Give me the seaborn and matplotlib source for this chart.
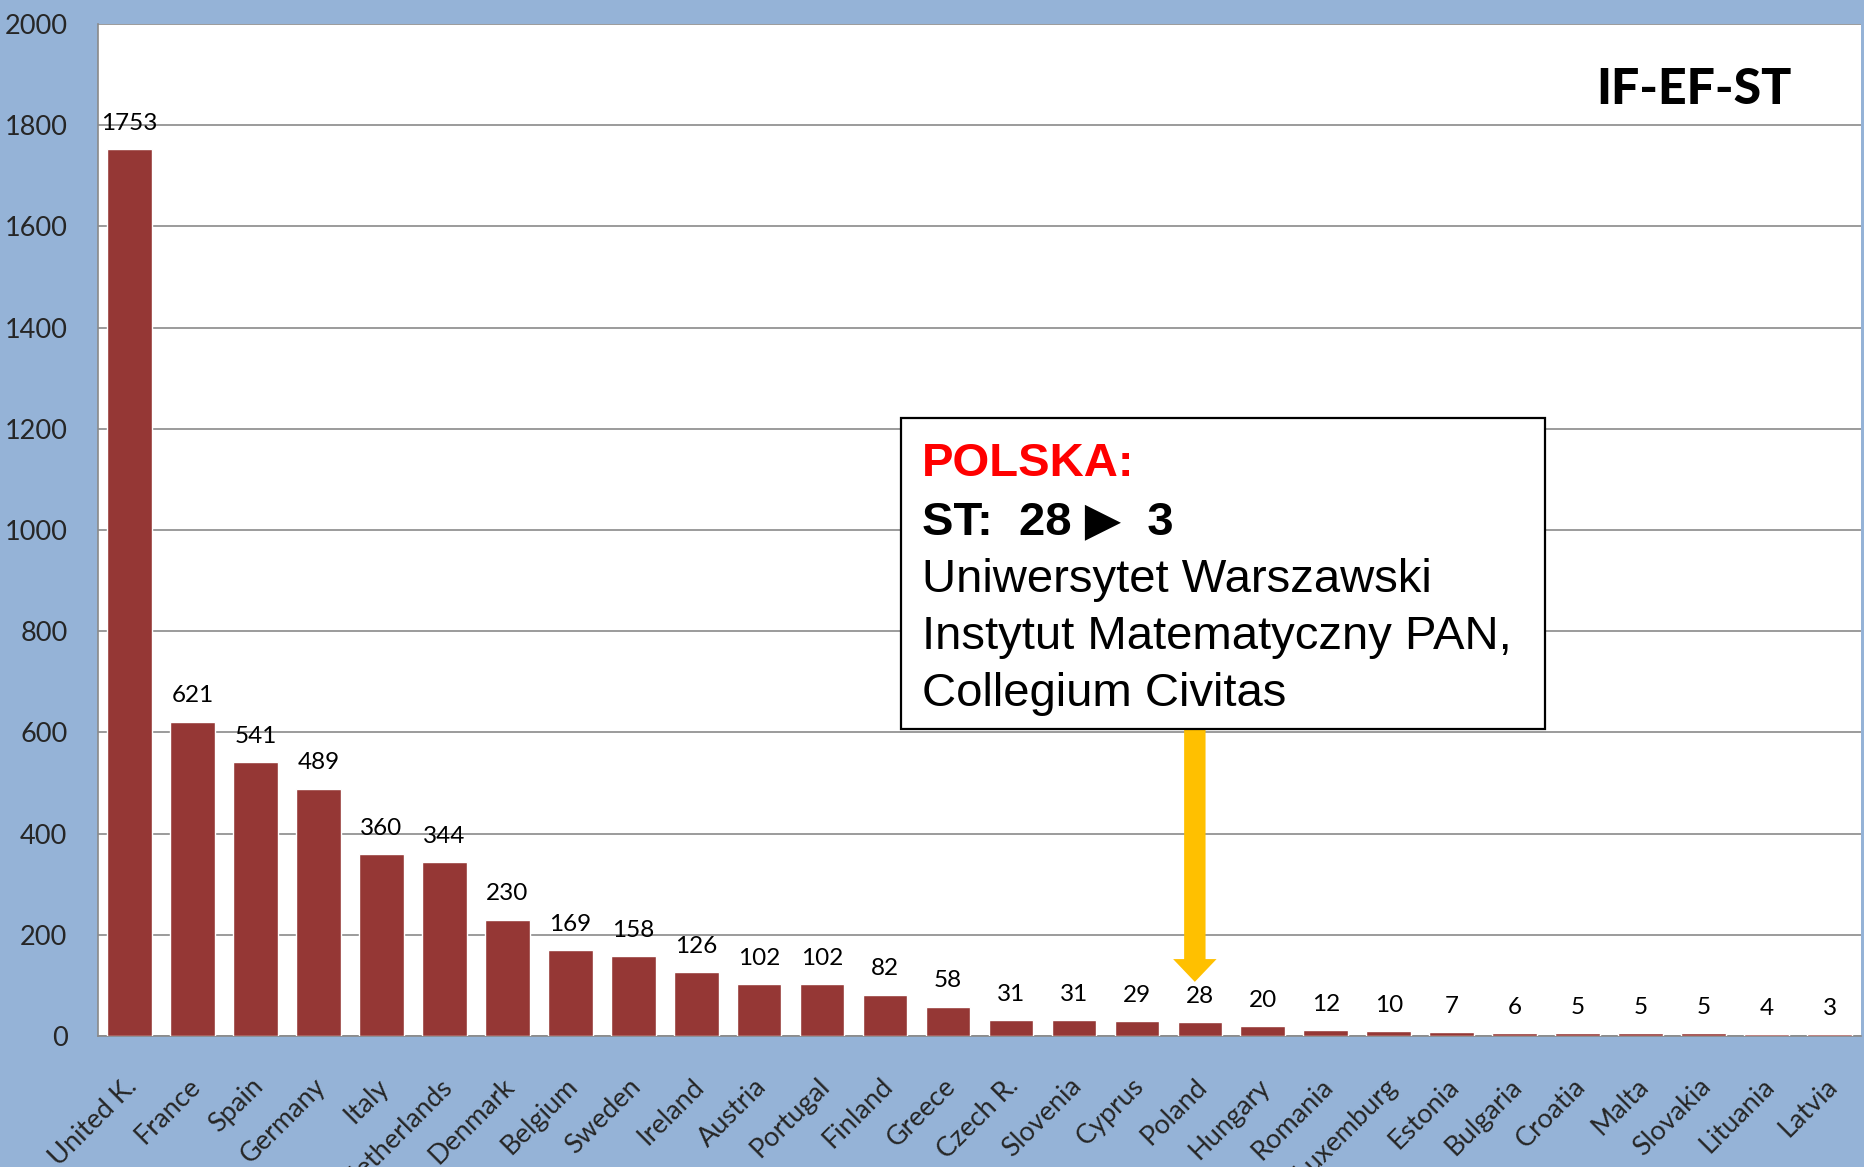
import numpy as np
import matplotlib
matplotlib.use("Agg")
import matplotlib.pyplot as plt
import matplotlib.transforms as mtransforms
from matplotlib.patches import Rectangle
import seaborn as sns

# data
countries = ["United K.", "France", "Spain", "Germany", "Italy", "Netherlands",
             "Denmark", "Belgium", "Sweden", "Ireland", "Austria", "Portugal",
             "Finland", "Greece", "Czech R.", "Slovenia", "Cyprus", "Poland",
             "Hungary", "Romania", "Luxemburg", "Estonia", "Bulgaria", "Croatia",
             "Malta", "Slovakia", "Lituania", "Latvia"]
projects = [1753, 621, 541, 489, 360, 344, 230, 169, 158, 126, 102, 102, 82, 58,
            31, 31, 29, 28, 20, 12, 10, 7, 6, 5, 5, 5, 4, 3]
y_ticks = [0, 200, 400, 600, 800, 1000, 1200, 1400, 1600, 1800, 2000]

title_text = "IF-EF-ST"
box_lines = ["POLSKA:", "ST:  28 \u25B6  3", "Uniwersytet Warszawski",
             "Instytut Matematyczny PAN,", "Collegium Civitas"]
arrow_target = "Poland"

sns.set_style("white")
plt.rcParams["font.family"] = ["Lato", "DejaVu Sans"]

bg = "#95B3D7"
bar_color = "#953735"
grey = "#8a8a8a"

fig = plt.figure(figsize=(18.64, 11.67), dpi=100, facecolor=bg)
ax = fig.add_axes([98 / 1864, 1 - 1036 / 1167, 1763 / 1864, 1012 / 1167])
ax.set_facecolor("white")

sns.barplot(x=countries, y=projects, color=bar_color, width=0.71,
            saturation=1, ax=ax, zorder=3)
ax.bar_label(ax.containers[0], labels=[str(v) for v in projects],
             padding=11, fontsize=17.5, color="black")

ax.set_xlim(-0.5, len(countries) - 0.5)
ax.set_ylim(0, 2000)
ax.set_yticks(y_ticks)
ax.yaxis.grid(True, color=grey, linewidth=1.2, zorder=0)
ax.set_axisbelow(True)
for s in ["top", "right"]:
    ax.spines[s].set_visible(False)
for s in ["left", "bottom"]:
    ax.spines[s].set_color(grey)
    ax.spines[s].set_linewidth(1.2)

ax.tick_params(axis="y", length=7, width=1.2, color=grey, pad=15, labelsize=19.5)
ax.set_xticks(np.arange(-0.5, len(countries), 1), minor=True)
ax.tick_params(axis="x", which="major", length=0, pad=27, labelsize=19.5)
ax.tick_params(axis="x", which="minor", length=7, width=1.2, color=grey)
shift = mtransforms.ScaledTranslation(9 / 72, 0, fig.dpi_scale_trans)
for lab in ax.get_xticklabels():
    lab.set_rotation(45)
    lab.set_ha("right")
    lab.set_va("top")
    lab.set_transform(lab.get_transform() + shift)
ax.set_xlabel("")
ax.set_ylabel("")

# title in the top-right corner
ax.text(0.9054, 0.9357, title_text, transform=ax.transAxes, ha="center",
        va="center", fontsize=36, fontweight="black", color="black")

# yellow arrow pointing at Poland
px = countries.index(arrow_target) - 0.08
ax.arrow(px, 607, 0, -500, width=0.34, head_width=0.69, head_length=45,
         length_includes_head=True, color="#FFC000", zorder=4, linewidth=0)

# annotation box
ax.add_patch(Rectangle((0.4555, 0.3034), 0.3653, 0.3073, transform=ax.transAxes,
                       facecolor="white", edgecolor="black", linewidth=1.6,
                       zorder=5, clip_on=False))
fam = ["Liberation Sans", "DejaVu Sans"]
baselines = [476, 534, 592, 649, 706]
styles = [("#FF0000", "bold"), ("black", "bold"), ("black", "normal"),
          ("black", "normal"), ("black", "normal")]
for line, yb, (col, wt) in zip(box_lines, baselines, styles):
    fig.text(922 / 1864, 1 - yb / 1167, line, family=fam, fontsize=34,
             color=col, fontweight=wt, ha="left", va="baseline", zorder=6)

fig.savefig("out.png", dpi=100, facecolor=bg)
